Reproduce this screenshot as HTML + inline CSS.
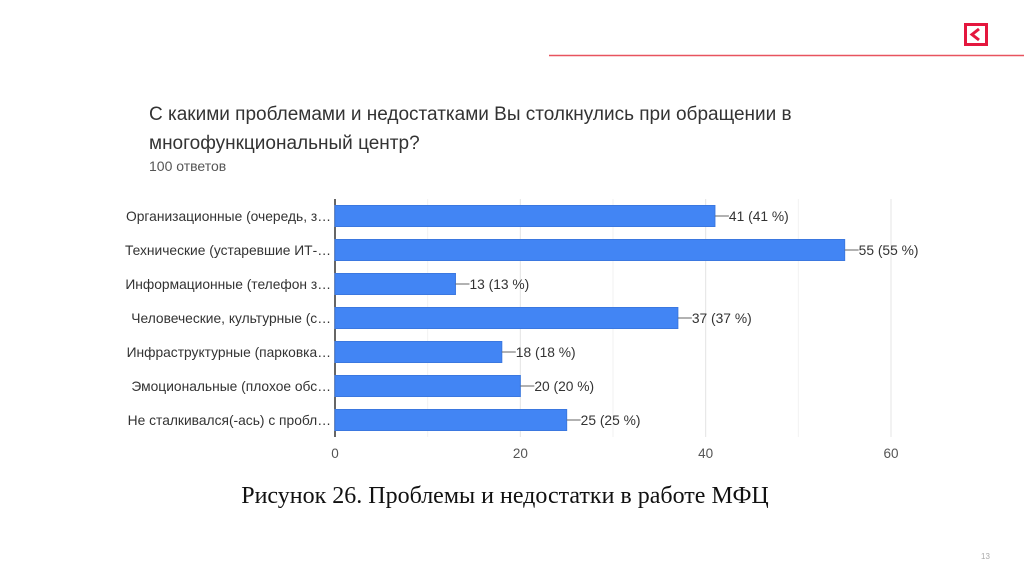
<!DOCTYPE html>
<html><head><meta charset="utf-8"><style>
body{margin:0;width:1024px;height:574px;background:#fff;overflow:hidden;font-family:"Liberation Sans",sans-serif}
</style></head><body>
<svg width="1024" height="574" xmlns="http://www.w3.org/2000/svg">
<line x1="549" y1="55.5" x2="1024" y2="55.5" stroke="#e8535f" stroke-width="1.5"/>
<g>
<rect x="965.5" y="24.5" width="21" height="20" fill="none" stroke="#e4173e" stroke-width="3"/>
<path d="M979 29 L972 34.5 L979 40" fill="none" stroke="#e4173e" stroke-width="3"/>
</g>
<text x="149" y="120" font-size="19" fill="#333">С какими проблемами и недостатками Вы столкнулись при обращении в</text>
<text x="149" y="149" font-size="19" fill="#333">многофункциональный центр?</text>
<text x="149" y="171" font-size="14" fill="#555">100 ответов</text>
<g id="chart"></g>
<text x="505" y="503" font-size="24" fill="#111" text-anchor="middle" font-family="Liberation Serif,serif">Рисунок 26. Проблемы и недостатки в работе МФЦ</text>
<text x="981" y="559" font-size="8" fill="#aaa">13</text>
</svg>
<script>
const categories=["Организационные (очередь, з…","Технические (устаревшие ИТ-…","Информационные (телефон з…","Человеческие, культурные (с…","Инфраструктурные (парковка…","Эмоциональные (плохое обс…","Не сталкивался(-ась) с пробл…"];
const values=[41,55,13,37,18,20,25];
const percents=["41 %","55 %","13 %","37 %","18 %","20 %","25 %"];
const ticks=[0,20,40,60];
const minorTicks=[10,30,50];
const NS="http://www.w3.org/2000/svg";
const g=document.getElementById('chart');
const x0=335,x1=891,max=60,top0=199,rowH=34;
const xs=v=>x0+(x1-x0)*v/max;
const ys=i=>top0+i*rowH+rowH/2;
function el(t,a){const e=document.createElementNS(NS,t);for(const k in a)e.setAttribute(k,a[k]);g.appendChild(e);return e;}
minorTicks.forEach(t=>{const l=el('line',{x1:xs(t),x2:xs(t),y1:top0,y2:top0+rowH*7,stroke:'#f2f2f2'});

});
ticks.forEach(t=>{const l=el('line',{x1:xs(t),x2:xs(t),y1:top0,y2:top0+rowH*7,stroke:t?'#e4e4e4':'#333','stroke-width':t?1:1.5});


const tx=el('text',{x:xs(t),y:458,'font-size':13.5,fill:'#555','text-anchor':'middle'});tx.textContent=t;

});
categories.forEach((c,i)=>{const y=ys(i);
const lb=el('text',{x:331,y:y+5,'font-size':13.8,fill:'#333','text-anchor':'end'});lb.textContent=c;


const b=el('rect',{x:x0,y:y-10.5,width:xs(values[i])-x0,height:21,fill:'#4285f4',stroke:'#3b78e0'});


const xe=xs(values[i]);
const ln=el('line',{x1:xe,x2:xe+14,y1:y,y2:y,stroke:'#666'});


const vt=el('text',{x:xe+14,y:y+5,'font-size':13.8,fill:'#333'});vt.textContent=values[i]+' ('+percents[i]+')';

});
</script>
</body></html>
